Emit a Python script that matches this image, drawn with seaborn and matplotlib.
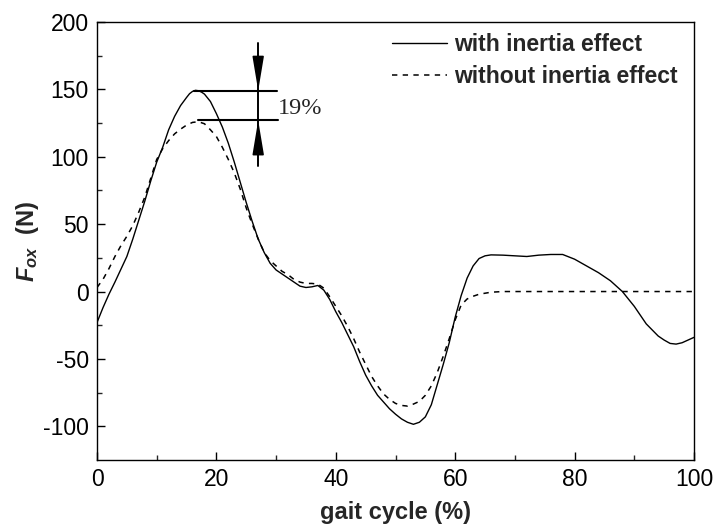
import pandas as pd
import numpy as np
import matplotlib
matplotlib.use("Agg")
import matplotlib.pyplot as plt
import seaborn as sns

# gait cycle (%) and F_ox (N)
x_with = [0, 1, 2, 3, 4, 5, 6, 7, 8, 9, 10, 11, 12, 13, 14, 15, 15.5, 16, 16.5,
          17, 17.5, 18, 19, 20, 21, 22, 23, 24, 25, 26, 27, 28, 29, 30, 31, 32, 33,
          34, 35, 36, 37, 38, 39, 40, 41, 42, 43, 44, 45, 46, 47, 48, 49, 50, 51,
          52, 53, 54, 55, 56, 57, 58, 59, 60, 61, 62, 63, 64, 65, 66, 68, 70,
          72, 74, 76, 78, 80, 82, 84, 86, 88, 90, 92, 94, 95, 96, 97, 98, 99, 100]
f_with = [-23, -12, -2, 7, 16.5, 26, 39, 53, 67, 82, 96, 107, 120, 130, 138, 144,
          146.8, 148.5, 149.3, 149, 148, 146.5, 141, 132, 122, 110, 96, 81, 66, 52,
          39, 29, 21, 16, 13, 10, 7, 4, 3, 3.5, 4.5, 1, -6, -15, -23, -32, -41, -52,
          -62, -70, -77, -82, -87, -91, -94.5, -97, -98.5, -97, -93, -84, -69, -54,
          -38, -19, -3, 10, 19, 24.5, 26.5, 27.2, 27, 26.5, 26, 27, 27.5, 27.5,
          24, 19, 14, 8, 0, -11, -24, -33, -36, -38.5, -39, -38, -36, -34]

x_without = [0, 1, 2, 3, 4, 5, 6, 7, 8, 9, 10, 11, 12, 13, 14, 15, 16, 17, 18, 19,
             20, 21, 22, 23, 24, 25, 26, 27, 28, 29, 30, 31, 32, 33, 34, 35, 36, 37,
             38, 39, 40, 41, 42, 43, 44, 45, 46, 47, 48, 49, 50, 51, 52, 53, 54, 55,
             56, 57, 58, 59, 60, 61, 62, 63, 64, 66, 68, 100]
f_without = [3, 9, 17, 26, 34, 41, 49, 59, 70, 84, 98, 106, 112, 117, 120.5, 123.5,
             125.5, 126, 124.5, 120, 115, 107, 98, 88, 76, 62, 50, 39, 29, 23, 19, 15,
             12.5, 9, 7, 6, 6, 5.5, 2.5, -4, -11, -18, -26, -35, -45, -54, -63, -70,
             -76, -80, -83, -84.5, -85, -83.5, -81.5, -77, -70, -60, -48, -35, -21,
             -10, -5.5, -3.5, -2, -0.5, 0, 0]

labels = ["with inertia effect", "without inertia effect"]

# peak difference marker
peak_with = 149
peak_without = 127
marker_x = 27
marker_text = "19%"

sns.set_style("ticks")
plt.rcParams["font.family"] = ["Liberation Sans", "DejaVu Sans"]
plt.rcParams["mathtext.fontset"] = "custom"
plt.rcParams["mathtext.it"] = "Liberation Sans:bold:italic"
plt.rcParams["mathtext.rm"] = "Liberation Sans:bold"

df_with = pd.DataFrame({"x": x_with, "F": f_with})
df_without = pd.DataFrame({"x": x_without, "F": f_without})

fig = plt.figure(figsize=(7.2, 5.25), dpi=100)
ax = fig.add_axes([97 / 720, 1 - 460 / 525, 597 / 720, 438 / 525])

sns.lineplot(data=df_with, x="x", y="F", ax=ax, color="black", lw=1.0,
             label=labels[0])
sns.lineplot(data=df_without, x="x", y="F", ax=ax, color="black", lw=1.1,
             label=labels[1])
ax.lines[1].set_linestyle((0, (3.5, 3.5)))

ax.set_xlim(0, 100)
ax.set_ylim(-125, 200)
ax.set_xticks(np.arange(0, 101, 20))
ax.set_xticks(np.arange(10, 100, 20), minor=True)
ax.set_yticks(np.arange(-100, 201, 50))
ax.set_yticks(np.arange(-75, 200, 50), minor=True)
ax.set_yticklabels([str(v) for v in range(-100, 201, 50)])

for s in ax.spines.values():
    s.set_linewidth(1.0)
    s.set_color("black")
ax.tick_params(which="major", direction="in", length=6, width=1.0,
               labelsize=16.5, pad=6, colors="black")
ax.tick_params(which="minor", direction="in", length=3.8, width=1.0)

ax.set_xlabel("gait cycle (%)", fontsize=17, fontweight="bold", labelpad=7)
ax.set_ylabel(r"$F_{ox}$  (N)", fontsize=17, fontweight="bold", labelpad=1)

leg = ax.legend(loc="upper right", bbox_to_anchor=(0.973, 0.974), frameon=False,
                borderpad=0, borderaxespad=0, handlelength=2.4, handletextpad=0.3,
                labelspacing=0.38, prop={"weight": "bold", "size": 16.5})

# 19% marker
ax.plot([16.3, 30.2], [peak_with, peak_with], color="black", lw=1.5)
ax.plot([17.0, 30.3], [peak_without, peak_without], color="black", lw=1.5)
ax.plot([marker_x, marker_x], [184.5, 93], color="black", lw=1.4)
head = dict(arrowstyle="-|>,head_length=2.1,head_width=0.35", color="black",
            lw=1.2, mutation_scale=10, shrinkA=0, shrinkB=0)
ax.annotate("", xy=(marker_x, peak_with), xytext=(marker_x, 171), arrowprops=head)
ax.annotate("", xy=(marker_x, peak_without), xytext=(marker_x, 105), arrowprops=head)
ax.text(30.3, 135.5, marker_text, fontsize=17.5, family="Liberation Serif",
        va="center", ha="left")

fig.savefig("out.png", dpi=100)
